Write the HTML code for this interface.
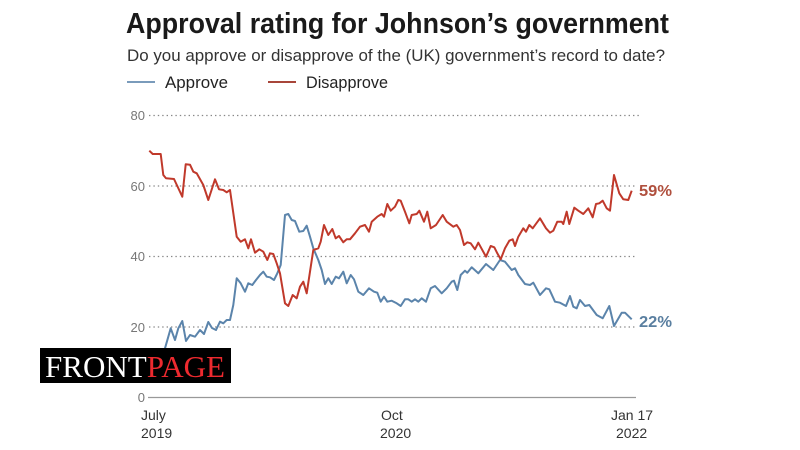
<!DOCTYPE html>
<html><head><meta charset="utf-8"><style>
html,body{margin:0;padding:0;background:#fff;}
svg{display:block;}
.s{font-family:"Liberation Sans",sans-serif;}
</style></head><body>
<svg width="800" height="450" viewBox="0 0 800 450" xmlns="http://www.w3.org/2000/svg">
<rect width="800" height="450" fill="#fff"/>
<g class="s">
<text x="126" y="33" font-size="29" font-weight="bold" fill="#1a1a1a" textLength="543" lengthAdjust="spacingAndGlyphs">Approval rating for Johnson’s government</text>
<text x="127" y="61" font-size="17" fill="#333" textLength="538" lengthAdjust="spacingAndGlyphs">Do you approve or disapprove of the (UK) government’s record to date?</text>
<text x="165" y="88" font-size="17" fill="#222" textLength="63" lengthAdjust="spacingAndGlyphs">Approve</text>
<text x="306" y="88" font-size="17" fill="#222" textLength="82" lengthAdjust="spacingAndGlyphs">Disapprove</text>
</g>
<line x1="127" y1="82" x2="155" y2="82" stroke="#7a9bbb" stroke-width="2"/>
<line x1="268" y1="82" x2="296" y2="82" stroke="#a8463a" stroke-width="2"/>
<g stroke="#888" stroke-width="1.3" stroke-dasharray="1.4 3">
<line x1="149" y1="115.5" x2="641" y2="115.5"/>
<line x1="149" y1="186" x2="636" y2="186"/>
<line x1="149" y1="256.5" x2="636" y2="256.5"/>
<line x1="149" y1="327" x2="636" y2="327"/>
</g>
<line x1="148" y1="397.5" x2="636" y2="397.5" stroke="#999" stroke-width="1.3"/>
<g class="s" font-size="13" fill="#777" text-anchor="end">
<text x="145" y="120">80</text>
<text x="145" y="191">60</text>
<text x="145" y="261">40</text>
<text x="145" y="332">20</text>
<text x="145" y="402">0</text>
</g>
<g class="s" font-size="14" fill="#333">
<text x="141" y="420">July</text>
<text x="141" y="438">2019</text>
<text x="381" y="420">Oct</text>
<text x="380" y="438">2020</text>
<text x="611" y="420">Jan 17</text>
<text x="616" y="438">2022</text>
</g>
<polyline fill="none" stroke="#5b84ab" stroke-width="2" stroke-linejoin="round" points="149,360 158,352 165,348.3 170.7,328.3 175,340 178.3,328.3 182.3,321 186,341 190,335 195,336.7 200,330 204,334 208.3,322 212,328 216,330 220,321.7 223.3,323.3 226.7,320 230,320 233.3,305 236.7,278.3 240.7,283.3 245,291.7 248.3,283.3 252.3,285 256,280 260,275 263.3,271.7 266.7,276.7 270,277.3 274,280 277.3,273.3 280.7,265 285,215 288.3,214 291.7,220 295,221 299.3,231.7 303.3,231 306.7,225.7 310,236.7 313.3,248.3 318.3,260 321.7,270 325,284 328.3,278.3 331.7,284 335.7,276.7 339,278.3 343.3,271.7 346.7,283.3 350.7,275 354,279.3 358.3,291.7 363.3,295 369,288.3 374,291.7 377.3,292.7 380.7,301.7 384,296.7 387.3,301.7 391.7,300.7 396.7,303.3 400.7,306 405,299.3 408.3,299.3 411.7,301.7 415,299.3 418.3,301.7 421.7,298.3 426,301.7 430.7,288.3 435,286 441.7,293.3 446.7,288.3 451.7,281.7 454,280.7 457.3,290 460.7,275 465,270.7 467.3,272.7 471.7,267.3 478.3,273.3 486,264 493.3,270 500,260 505,261.7 511.7,270 515,268.3 518.3,275 525,284 530,285 533.3,282.7 540,295 546,288.3 549.3,289.3 555,301.7 560,302.7 566,306 570,296 573.3,306.7 576.7,308.3 580,300 585,306 589.3,305 596.7,315 602.7,318.3 609.3,306 614,326 621.7,312.7 625,312.7 631.7,319.3"/>
<polyline fill="none" stroke="#c0392b" stroke-width="2" stroke-linejoin="round" points="149.3,150.7 152.7,154 160.7,154 163.3,175 166,178.3 174,179 182.3,196.7 185.7,164.3 190,164.7 193.3,171.7 196.7,173.3 203.3,185 208.3,200 215,179.3 219,189.3 223.3,190 226.7,192.3 230,190 236.7,236.7 240.7,241.7 245,239.3 248.3,248.3 251,239.3 255,252.7 259.3,249.3 263.3,251.7 267.3,260 270,253.3 273.3,254 276.7,263.3 280,273.3 285,303.3 288.3,306 292.7,295 296.7,298.3 300,286.7 303.3,281.7 306.7,293.3 313.3,250 318.3,248.3 320.7,241.7 324,225 328.3,235 332.3,229 335.7,238.3 339,236 343.3,242.3 346.7,239.3 350,239.3 355,233.3 360,226.7 365,225 369,231.7 371.7,221.7 377.3,216.7 381.7,214 384,216.7 387.3,204 390.7,210.7 395,206.7 398.3,200 400.7,200.7 405,211.7 409.3,223.3 411.7,215 416.7,214 419.3,210.7 424,221.7 427.3,211.7 430.7,228.3 436,225 442.7,215 446.7,221.7 453.3,226.7 456.7,225 460,230 464,245 467.3,242.3 470.7,243.3 475,249.3 478.3,242.7 486,256.7 490.7,246 494.3,247.3 497.3,253.3 500.7,259.3 505,248.3 509.3,240.7 512.7,239.3 515,246 518.3,236.7 523.3,228.3 526,231.7 529.3,225 532.7,228.3 540,218.3 546,228.3 550,232.7 553.3,230.7 557.3,221.7 561.7,221.7 563.3,224 566.7,211.7 569.3,224 574.3,207.7 578.3,210.7 583.3,214 588.3,208.3 592.7,217.3 596,204 599.3,203.3 602.7,200.7 606.7,208.3 610,210.7 614,175 619.3,193.3 623.3,199.3 628.3,200 631.7,190.7"/>
<g class="s">
<text x="639" y="196" font-size="16" font-weight="bold" fill="#b0503e" textLength="33" lengthAdjust="spacingAndGlyphs">59%</text>
<text x="639" y="327" font-size="16" font-weight="bold" fill="#5a7fa0" textLength="33" lengthAdjust="spacingAndGlyphs">22%</text>
</g>
<rect x="40" y="348" width="191" height="35" fill="#000"/>
<text x="45" y="377" style="font-family:'Liberation Serif',serif;font-size:31px;" textLength="180" lengthAdjust="spacingAndGlyphs"><tspan fill="#fff">FRONT</tspan><tspan fill="#ee2a2f">PAGE</tspan></text>
</svg>
</body></html>
